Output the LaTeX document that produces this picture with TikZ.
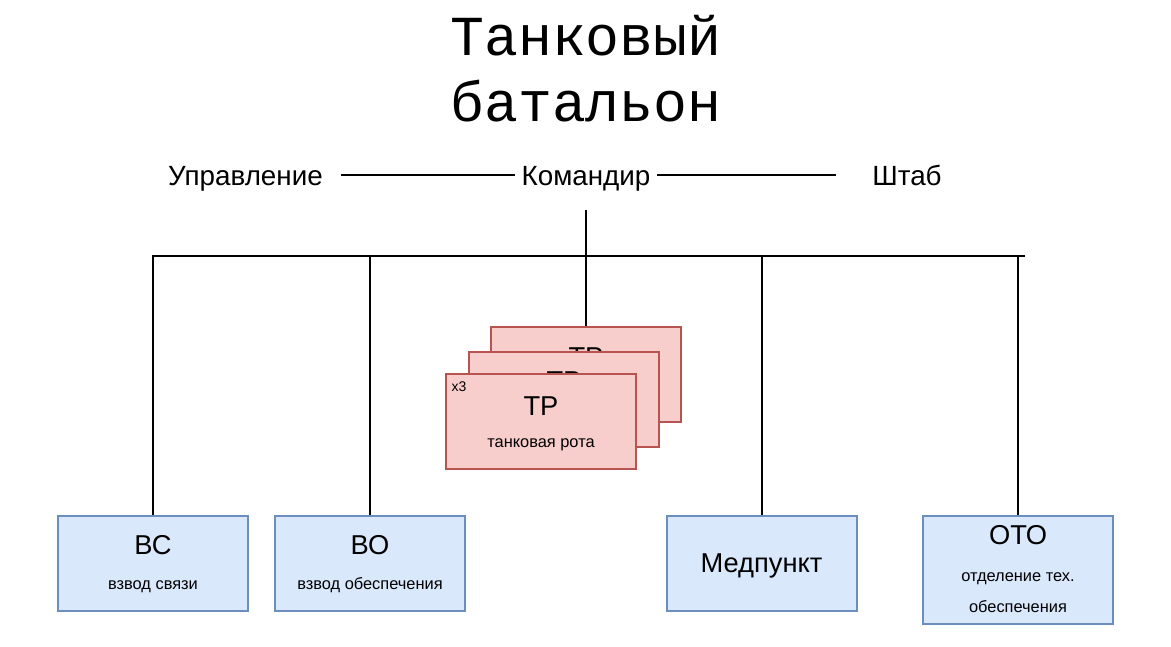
\documentclass[tikz,border=0pt]{standalone}
\usepackage{fontspec}
\setmainfont{Liberation Sans}
\newfontfamily\titlefont{Liberation Mono}
\definecolor{bluefill}{HTML}{DAE8FC}
\definecolor{blueedge}{HTML}{6C8EBF}
\definecolor{redfill}{HTML}{F8CECC}
\definecolor{rededge}{HTML}{B85450}
\begin{document}
\begin{tikzpicture}[x=1pt,y=-1pt,
  conn/.style={draw=black, line width=2pt},
  boxbase/.style={rectangle, line width=2pt, minimum width=190pt, minimum height=95pt, inner sep=0pt},
  bluebox/.style={boxbase, draw=blueedge, fill=bluefill},
  redbox/.style={boxbase, draw=rededge, fill=redfill},
  toplabel/.style={font=\fontsize{27.8}{32}\selectfont, text height=20pt, text depth=0pt, inner sep=0pt},
  bigtxt/.style={font=\fontsize{27.3}{30}\selectfont, anchor=base, inner sep=0pt},
  smalltxt/.style={font=\fontsize{16.4}{19}\selectfont, anchor=base, inner sep=0pt},
  titletxt/.style={font=\titlefont\fontsize{56.5}{65}\selectfont, anchor=base, inner sep=0pt}]
\path[use as bounding box] (0,0) rectangle (1171,646);

% title
\node[titletxt] (t1) at (586,55) {Танковый};
\node[titletxt] (t2) at (586,121) {батальон};

% top row
\node[toplabel, minimum width=190pt] (upr) at (245.5,175) {Управление};
\node[toplabel, minimum width=142pt, minimum height=70pt] (kom) at (586,175) {Командир};
\node[toplabel, minimum width=142pt] (shtab) at (907,175) {Штаб};

% bus
\coordinate (bl) at (152,256);
\coordinate (br) at (1025,256);

% boxes (positions)
\node[bluebox] (bs) at (153,563.5) {};
\node[bluebox] (bo) at (370,563.5) {};
\node[bluebox] (med) at (761.5,563.5) {};
\node[bluebox, minimum height=108pt] (oto) at (1018,570) {};

% connectors
\draw[conn] (upr.east) -- (kom.west);
\draw[conn] (kom.east) -- (shtab.west);
\draw[conn] (bl) -- (br);
\draw[conn] (bs.north |- bl) -- (bs.north);
\draw[conn] (bo.north |- bl) -- (bo.north);
\draw[conn] (med.north |- bl) -- (med.north);
\draw[conn] (oto.north |- bl) -- (oto.north);

% tank companies stack
\node[redbox] (tr3) at (586,374.5) {};
\draw[conn] (kom.south) -- (tr3.north);
\node[bigtxt] (tr3t) at ([yshift=-40pt]tr3.north) {ТР};
\node[redbox] (tr2) at (564,399) {};
\node[bigtxt] (tr2t) at ([yshift=-40pt]tr2.north) {ТР};
\node[redbox] (tr1) at (541,421.5) {};
\node[bigtxt] (tr1t) at ([yshift=-42pt]tr1.north) {ТР};
\node[smalltxt] (tr1s) at ([yshift=-74pt]tr1.north) {танковая рота};
\node[font=\fontsize{14}{16}\selectfont, anchor=base west, inner sep=0pt] (x3) at (451.5,391) {x3};

% box texts
\node[bigtxt] (bst) at ([yshift=-39pt]bs.north) {ВС};
\node[smalltxt] (bss) at ([yshift=-74pt]bs.north) {взвод связи};
\node[bigtxt] (bot) at ([yshift=-39pt]bo.north) {ВО};
\node[smalltxt] (bos) at ([yshift=-74pt]bo.north) {взвод обеспечения};
\node[bigtxt] (medt) at ([yshift=-57pt]med.north) {Медпункт};
\node[bigtxt] (otot) at ([yshift=-29.5pt]oto.north) {ОТО};
\node[smalltxt] (otos1) at ([yshift=-66pt]oto.north) {отделение тех.};
\node[smalltxt] (otos2) at ([yshift=-97pt]oto.north) {обеспечения};
\end{tikzpicture}
\end{document}
